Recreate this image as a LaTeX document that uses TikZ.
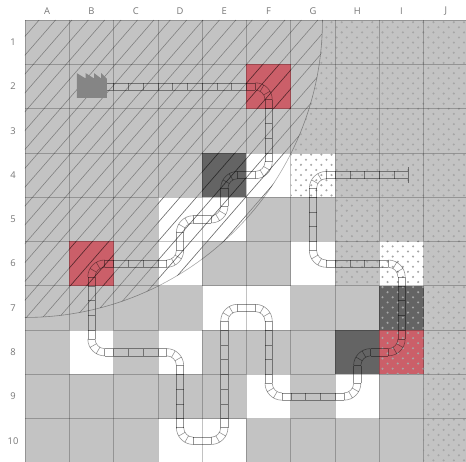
\documentclass[tikz,border=0pt]{standalone}
\usepackage{fontspec}
\setsansfont{Open Sans}

% === Geometry of the pipe ===
\def\bendR{0.3}
\def\pipeW{0.082}

\definecolor{cellgray}{HTML}{C3C3C3}
\definecolor{celldark}{HTML}{646464}
\definecolor{cellred}{HTML}{CB5F69}
\definecolor{labelgray}{HTML}{777777}
\definecolor{plantgray}{HTML}{858585}
\definecolor{dotgray}{HTML}{A6A6A6}

\tikzset{
    pipeedge/.style={line width=0.5pt, black, opacity=0.42},
    gridline/.style={line width=0.6pt, black, opacity=0.24},
    hatchline/.style={line width=0.5pt, black, opacity=0.34},
    labeltext/.style={font=\sffamily\fontsize{8}{9}\selectfont, text=labelgray},
}

% one set of slanted lines over the whole grid
\newcommand{\hatchlines}{%
    \foreach \d in {0,...,32} {
        \draw[hatchline] ({0.37*\d-0.05},0) -- ++(-8,{8*1.15});
    }
}

% straight piece: xa, ya, xb, yb, cut at start, cut at end, ticks
\newcommand{\pipeline}[7]{%
    \pgfmathsetmacro{\lenP}{veclen(#3-#1,#4-#2)}
    \pgfmathsetmacro{\ux}{(#3-#1)/\lenP}
    \pgfmathsetmacro{\uy}{(#4-#2)/\lenP}
    \foreach \side in {-1,1} {
        \draw[pipeedge] ({#1+\ux*#5-\uy*\side*\pipeW},{#2+\uy*#5+\ux*\side*\pipeW})
            -- ({#3-\ux*#6-\uy*\side*\pipeW},{#4-\uy*#6+\ux*\side*\pipeW});
    }
    \ifnum#7>0
        \foreach \k in {1,...,#7} {
            \pgfmathsetmacro{\tk}{0.5+(\k-1)/3}
            \draw[pipeedge] ({#1+\ux*\tk-\uy*\pipeW},{#2+\uy*\tk+\ux*\pipeW})
                -- ({#1+\ux*\tk+\uy*\pipeW},{#2+\uy*\tk-\ux*\pipeW});
        }
    \fi
}

% bend: corner x, corner y, start angle of its quadrant
\newcommand{\pipecorner}[3]{%
    \pgfmathsetmacro{\cxx}{#1-\bendR*sqrt(2)*cos(#3+45)}
    \pgfmathsetmacro{\cyy}{#2-\bendR*sqrt(2)*sin(#3+45)}
    \foreach \rad in {\bendR-\pipeW,\bendR+\pipeW} {
        \pgfmathsetmacro{\radv}{\rad}
        \draw[pipeedge] ({\cxx+\radv*cos(#3)},{\cyy+\radv*sin(#3)})
            arc[start angle=#3, delta angle=90, radius=\radv];
    }
    \foreach \ang in {0,30,60,90} {
        \draw[pipeedge] ({\cxx+(\bendR-\pipeW)*cos(#3+\ang)},{\cyy+(\bendR-\pipeW)*sin(#3+\ang)})
            -- ({\cxx+(\bendR+\pipeW)*cos(#3+\ang)},{\cyy+(\bendR+\pipeW)*sin(#3+\ang)});
    }
}

\begin{document}
\begin{tikzpicture}[x=1.329cm, y=-1.329cm]

\clip (-0.564,-0.451) rectangle (9.955,9.977);
\fill[white] (-0.564,-0.451) rectangle (9.955,9.977);

% === Cells ===
\fill[cellgray] (0,0) rectangle (10,10);
\foreach \cx/\cy in {3/4, 4/4, 5/3, 6/3, 3/5, 6/5, 8/5, 4/6, 5/6, 1/7, 3/7, 5/8, 7/8, 3/9, 4/9} {
    \fill[white] (\cx,\cy) rectangle ++(1,1);
}
\foreach \cx/\cy in {4/3, 8/6, 7/7} {
    \fill[celldark] (\cx,\cy) rectangle ++(1,1);
}
\foreach \cx/\cy in {5/1, 1/5, 8/7} {
    \fill[cellred] (\cx,\cy) rectangle ++(1,1);
}

% === Dotted zone (outside the arc, stepped towards the right) ===
\begin{scope}[even odd rule]
    \clip (6,0) -- (10,0) -- (10,10) -- (9,10) -- (9,8) -- (8,8) -- (8,6)
        -- (7,6) -- (7,4) -- (6,4) -- cycle;
    \clip (-1,-1) rectangle (11,11) (0,0) circle[radius=6.715];
    \fill[dotgray, nonzero rule]
        \foreach \i in {0,...,18} { \foreach \j in {0,...,88} {
            ({6+0.23*(\i+0.5*mod(\j,2))},{0.05+0.115*\j}) circle[radius=0.026]
        } };
\end{scope}

% === Hatched zone (inside the arc) ===
\begin{scope}
    \clip (0,0) circle[radius=6.715];
    \clip (0,0) rectangle (10,10);
    \hatchlines
    % second pass, stronger on the white and coloured cells
    \clip (3,4) rectangle ++(2,1) (5,3) rectangle ++(1,1) (3,5) rectangle ++(1,1)
        (1,5) rectangle ++(1,1) (5,1) rectangle ++(1,1) (4,3) rectangle ++(1,1);
    \hatchlines
\end{scope}
\draw[hatchline] (6.715,0) arc[start angle=0, end angle=90, radius=6.715];

% === Grid ===
\foreach \g in {0,...,10} {
    \draw[gridline] (\g,0) -- (\g,10);
    \draw[gridline] (0,\g) -- (10,\g);
}

% === Labels ===
\foreach \lab [count=\n from 0] in {A,B,C,D,E,F,G,H,I,J} {
    \node[labeltext] (col\lab) at ({\n+0.5},-0.2) {\lab};
}
\foreach \n in {1,...,10} {
    \node[labeltext] (row\n) at (-0.27,{\n-0.5}) {\n};
}

% === Plant in B2 ===
\fill[plantgray] (1.17,1.76) -- (1.17,1.20) -- (1.37,1.32) -- (1.37,1.20) -- (1.56,1.32)
    -- (1.56,1.20) -- (1.72,1.32) -- (1.72,1.20) -- (1.85,1.33) -- (1.85,1.76) -- cycle;

% === Pipe ===
\pipeline{1.5}{1.5}{5.5}{1.5}{0.35}{\bendR}{10}
\foreach \xa/\ya/\xb/\yb/\nt in {
    5.5/1.5/5.5/3.5/4, 5.5/3.5/4.5/3.5/0, 4.5/3.5/4.5/4.5/0, 4.5/4.5/3.5/4.5/0,
    3.5/4.5/3.5/5.5/0, 3.5/5.5/1.5/5.5/4, 1.5/5.5/1.5/7.5/4, 1.5/7.5/3.5/7.5/4,
    3.5/7.5/3.5/9.5/4, 3.5/9.5/4.5/9.5/0, 4.5/9.5/4.5/6.5/7, 4.5/6.5/5.5/6.5/0,
    5.5/6.5/5.5/8.5/4, 5.5/8.5/7.5/8.5/4, 7.5/8.5/7.5/7.5/0, 7.5/7.5/8.5/7.5/0,
    8.5/7.5/8.5/5.5/4, 8.5/5.5/6.5/5.5/4, 6.5/5.5/6.5/3.5/4} {
    \pipeline{\xa}{\ya}{\xb}{\yb}{\bendR}{\bendR}{\nt}
}
\pipeline{6.5}{3.5}{8.65}{3.5}{\bendR}{0}{5}

\foreach \vx/\vy/\qa in {
    5.5/1.5/270, 5.5/3.5/0, 4.5/3.5/180, 4.5/4.5/0, 3.5/4.5/180, 3.5/5.5/0,
    1.5/5.5/180, 1.5/7.5/90, 3.5/7.5/270, 3.5/9.5/90, 4.5/9.5/0, 4.5/6.5/180,
    5.5/6.5/270, 5.5/8.5/90, 7.5/8.5/0, 7.5/7.5/180, 8.5/7.5/0, 8.5/5.5/270,
    6.5/5.5/90, 6.5/3.5/180} {
    \pipecorner{\vx}{\vy}{\qa}
}

% end stop
\draw[line width=1pt, black, opacity=0.45] (8.65,3.32) -- (8.65,3.68);

\end{tikzpicture}
\end{document}
